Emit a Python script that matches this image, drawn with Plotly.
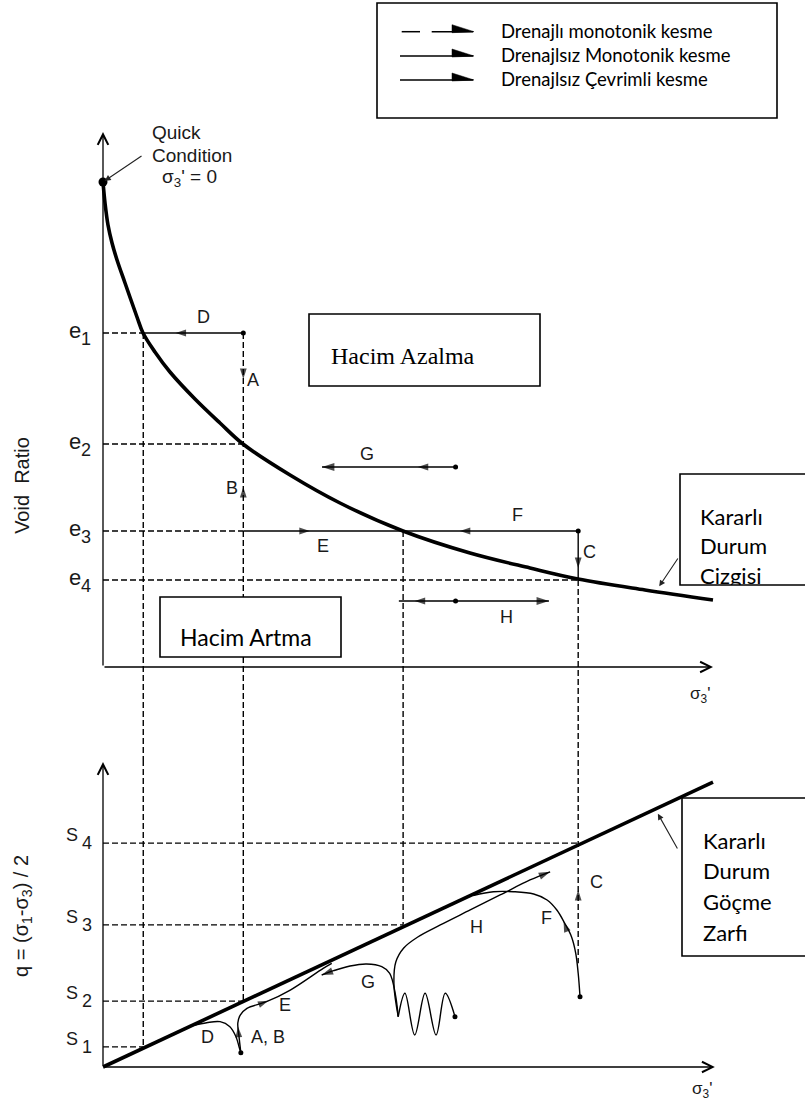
import plotly.graph_objects as go

# ------------------------------------------------------------------
# Data (schematic units: sigma3' on x, void ratio e (top) and q (bottom) on y)
# ------------------------------------------------------------------
ssl_sigma = [0.0, 0.033, 0.082, 0.148, 0.230, 0.361, 0.557, 0.656, 0.852, 1.098, 1.508,
             1.918, 2.295, 3.066, 3.885, 4.918, 6.016, 7.0, 7.787, 8.885, 10.0]
ssl_e = [1.2125, 1.16, 1.105, 1.06, 1.0175, 0.96, 0.875, 0.835, 0.7875, 0.7375, 0.67,
         0.61, 0.5575, 0.48, 0.41, 0.34, 0.285, 0.2475, 0.22, 0.1925, 0.1675]

level_sigma = [0.66, 2.30, 4.92, 7.79]
level_e = [0.835, 0.5575, 0.34, 0.2175]
level_s = [0.33, 1.08, 2.33, 3.67]
level_names = ["1", "2", "3", "4"]

env_sigma = [0.0, 10.0]
env_q = [0.0, 4.67]

# top panel (e - sigma3') stress paths
d_top_sigma = [2.30, 0.66]
e_top_sigma = [2.30, 4.92]
f_top_sigma = [7.79, 4.92]
c_top_e = [0.34, 0.2175]
g_top_sigma = [5.78, 3.59]
g_top_e = 0.50
h_top_sigma = [5.78, 4.85, 7.31]
h_top_e = 0.165

# bottom panel (q - sigma3') stress paths
d_bot_sigma = [2.26, 2.23, 2.18, 2.08, 1.92, 1.70, 1.48]
d_bot_q = [0.234, 0.333, 0.497, 0.661, 0.743, 0.726, 0.68]
ab_bot_sigma = [2.26, 2.23, 2.21, 2.25, 2.36, 2.68, 3.07, 3.61, 3.75]
ab_bot_q = [0.234, 0.497, 0.721, 0.852, 0.962, 1.071, 1.262, 1.618, 1.70]
cyc_sigma = [5.77, 5.61, 5.46, 5.28, 5.11, 4.95, 4.84]
cyc_q = [0.825, 1.208, 0.525, 1.208, 0.525, 1.208, 0.825]
g_bot_sigma = [4.84, 4.79, 4.70, 4.57, 4.32, 4.05, 3.78, 3.585]
g_bot_q = [0.825, 1.208, 1.536, 1.645, 1.689, 1.656, 1.579, 1.508]
h_bot_sigma = [4.84, 4.77, 4.80, 4.93, 5.16, 5.53, 6.02, 6.51, 7.00, 7.33]
h_bot_q = [0.825, 1.344, 1.721, 1.951, 2.131, 2.328, 2.574, 2.820, 3.066, 3.20]
f_bot_sigma = [7.82, 7.79, 7.75, 7.68, 7.57, 7.44, 7.28, 7.06, 6.73, 6.40, 6.07]
f_bot_q = [1.153, 1.536, 1.864, 2.136, 2.355, 2.574, 2.738, 2.836, 2.874, 2.874, 2.812]
c_bot_q_end = 1.70

legend_texts = ["Drenajlı monotonik kesme", "Drenajlsız Monotonik kesme", "Drenajlsız Çevrimli kesme"]

# ------------------------------------------------------------------
W, H = 805, 1103
X_RANGE = [-1.6885, 11.5082]
TOP_RANGE = [-0.2325, 1.6675]
BOT_RANGE = [-0.5902, 5.0328]
SPLIT = 1 - 760 / H

ARIAL = "Liberation Sans, Arial, sans-serif"
CAL = "Lato, Carlito, Calibri, sans-serif"
TIMES = "Liberation Serif, Times New Roman, serif"
TXT = "#1a1a1a"
DASH = "6px,3px"

fig = go.Figure()
AX = {"top": ("x", "y"), "bot": ("x2", "y2")}


def line(xs, ys, panel, dash=None, width=1.4, shape="linear"):
    xa, ya = AX[panel]
    fig.add_trace(go.Scatter(x=xs, y=ys, mode="lines", xaxis=xa, yaxis=ya,
                             line=dict(color="black", width=width, dash=dash, shape=shape,
                                       smoothing=1.0),
                             hoverinfo="skip"))


def arrow(xp, yp, xt, yt, panel, size=11):
    xa, ya = AX[panel]
    fig.add_trace(go.Scatter(x=[xp, xt], y=[yp, yt], mode="markers", xaxis=xa, yaxis=ya,
                             marker=dict(symbol="arrow", size=[0, size], angleref="previous",
                                         color="black", line=dict(width=0)),
                             hoverinfo="skip"))


def dots(xs, ys, panel, size=5):
    xa, ya = AX[panel]
    fig.add_trace(go.Scatter(x=xs, y=ys, mode="markers", xaxis=xa, yaxis=ya,
                             marker=dict(color="black", size=size), hoverinfo="skip"))


def label(text, x, y, panel, size=18, family=ARIAL, xshift=0, yshift=0, **kw):
    xa, ya = AX[panel]
    fig.add_annotation(text=text, x=x, y=y, xref=xa, yref=ya, showarrow=False,
                       xshift=xshift, yshift=yshift,
                       font=dict(family=family, size=size, color=TXT), **kw)


def axis_arrow(x0, y0, x1, y1, panel):
    xa, ya = AX[panel]
    fig.add_annotation(x=x1, y=y1, ax=x0, ay=y0, xref=xa, yref=ya, axref=xa, ayref=ya,
                       text="", showarrow=True, arrowhead=5, arrowsize=1.6,
                       arrowwidth=1.3, arrowcolor="black", standoff=0)


def leader(x0, y0, x1, y1, panel):
    xa, ya = AX[panel]
    fig.add_annotation(x=x1, y=y1, ax=x0, ay=y0, xref=xa, yref=ya, axref=xa, ayref=ya,
                       text="", showarrow=True, arrowhead=2, arrowsize=1.1,
                       arrowwidth=1.1, arrowcolor="#222", standoff=2)


def P(x, y):
    return x / W, 1 - y / H


def box(x0, y0, x1, y1, layer="above"):
    a, b = P(x0, y1)
    c, d = P(x1, y0)
    fig.add_shape(type="rect", xref="paper", yref="paper", x0=a, y0=b, x1=c, y1=d,
                  line=dict(color="black", width=1.6), fillcolor="white", layer=layer)


def ptext(text, x, y, size, family, xanchor="left"):
    a, b = P(x, y)
    fig.add_annotation(text=text, x=a, y=b, xref="paper", yref="paper", showarrow=False,
                       xanchor=xanchor, yanchor="middle",
                       font=dict(family=family, size=size, color="black"))


# ---------------- TOP PANEL ----------------
e_guide_end = [level_sigma[0], level_sigma[1], level_sigma[1], level_sigma[3]]
for ev, se in zip(level_e, e_guide_end):
    line([0, se], [ev, ev], "top", dash=DASH)
v_start = [level_e[0], level_e[0], level_e[2], level_e[3]]
for sv, es in zip(level_sigma, v_start):
    line([sv, sv], [es, TOP_RANGE[0]], "top", dash=DASH)

line(ssl_sigma, ssl_e, "top", width=3.6, shape="spline")
dots([ssl_sigma[0]], [ssl_e[0]], "top", size=9)

line(d_top_sigma, [level_e[0]] * 2, "top")
line(e_top_sigma, [level_e[2]] * 2, "top")
line(f_top_sigma, [level_e[2]] * 2, "top")
line([level_sigma[3]] * 2, c_top_e, "top")
line(g_top_sigma, [g_top_e] * 2, "top")
line(h_top_sigma, [h_top_e] * 3, "top")

arrow(1.50, level_e[0], 1.19, level_e[0], "top")
arrow(level_sigma[1], 0.77, level_sigma[1], 0.72, "top")
arrow(level_sigma[1], 0.41, level_sigma[1], 0.45, "top")
arrow(3.15, level_e[2], 3.39, level_e[2], "top")
arrow(6.10, level_e[2], 5.85, level_e[2], "top")
arrow(level_sigma[3], 0.29, level_sigma[3], 0.2475, "top")
arrow(5.45, g_top_e, 5.16, g_top_e, "top")
arrow(5.40, h_top_e, 5.11, h_top_e, "top")
arrow(g_top_sigma[0], g_top_e, g_top_sigma[-1], g_top_e, "top", size=13)
arrow(h_top_sigma[1], h_top_e, h_top_sigma[-1], h_top_e, "top", size=13)

dots([level_sigma[1], level_sigma[3], g_top_sigma[0], h_top_sigma[0]],
     [level_e[0], level_e[2], g_top_e, h_top_e], "top", size=5)

axis_arrow(0, 0, 0, 1.3375, "top")
axis_arrow(0, 0, 10.0, 0, "top")

for nm, ev in zip(level_names, level_e):
    label("e", -0.46, ev, "top", size=22, yshift=3)
    label(nm, -0.28, ev, "top", size=18, yshift=-6)

for t, x, y in [("D", 1.64, 0.876), ("A", 2.46, 0.7175), ("B", 2.12, 0.447),
                ("E", 3.60, 0.303), ("G", 4.33, 0.5325), ("F", 6.79, 0.38),
                ("C", 7.98, 0.288), ("H", 6.61, 0.126)]:
    label(t, x, y, "top")

label("Void  Ratio", -1.33, 0.455, "top", size=20, textangle=-90)
label("σ<sub>3</sub>'", 9.79, -0.07, "top", size=17)
label("Quick", 0.77, 1.3375, "top", size=19, xanchor="left")
label("Condition", 0.77, 1.28, "top", size=19, xanchor="left")
label("σ<sub>3</sub>' = 0", 0.93, 1.2225, "top", size=19, xanchor="left")
leader(0.656, 1.28, 0.0, ssl_e[0], "top")
leader(9.44, 0.275, 9.10, 0.1975, "top")

# ---------------- BOTTOM PANEL ----------------
for sv, qv in zip(level_sigma, level_s):
    line([0, sv], [qv, qv], "bot", dash=DASH)
q_end = [level_s[0], level_s[1], level_s[2], c_bot_q_end]
for sv, qe in zip(level_sigma, q_end):
    line([sv, sv], [BOT_RANGE[1], qe], "bot", dash=DASH)

line(env_sigma, env_q, "bot", width=3.6)
line(d_bot_sigma, d_bot_q, "bot", shape="spline")
line(ab_bot_sigma, ab_bot_q, "bot", shape="spline")
line(cyc_sigma, cyc_q, "bot", shape="spline")
line(g_bot_sigma, g_bot_q, "bot", shape="spline")
line(h_bot_sigma, h_bot_q, "bot", shape="spline")
line(f_bot_sigma, f_bot_q, "bot", shape="spline")

arrow(2.225, 0.50, 2.215, 0.66, "bot")
arrow(2.50, 1.00, 2.71, 1.087, "bot")
arrow(7.62, 2.20, 7.55, 2.38, "bot")
arrow(level_sigma[3], 2.60, level_sigma[3], 2.90, "bot")
arrow(g_bot_sigma[-2], g_bot_q[-2], g_bot_sigma[-1], g_bot_q[-1], "bot", size=12)
arrow(h_bot_sigma[-2], h_bot_q[-2], h_bot_sigma[-1], h_bot_q[-1], "bot", size=12)

dots([d_bot_sigma[0], cyc_sigma[0], f_bot_sigma[0]],
     [d_bot_q[0], cyc_q[0], f_bot_q[0]], "bot", size=5)

axis_arrow(0, 0, 0, 5.0, "bot")
axis_arrow(0, 0, 10.03, 0, "bot")

for nm, sv in zip(level_names, level_s):
    label("S", -0.51, sv, "bot", size=18, yshift=8)
    label(nm, -0.26, sv, "bot", size=18, yshift=0)

for t, x, y in [("D", 1.71, 0.487), ("A, B", 2.71, 0.487), ("E", 2.98, 1.016),
                ("G", 4.35, 1.398), ("H", 6.13, 2.30), ("F", 7.27, 2.438),
                ("C", 8.09, 3.038)]:
    label(t, x, y, "bot")

label("q = (σ<sub>1</sub>-σ<sub>3</sub>) / 2", -1.33, 2.475, "bot", size=20, textangle=-90)
label("σ<sub>3</sub>'", 9.82, -0.38, "bot", size=17)
leader(9.43, 3.557, 9.08, 4.18, "bot")

# ---------------- boxes & legend ----------------
box(377, 3, 777, 118)
leg_y = [31.7, 56.0, 80.0]
for i, (txt, yy) in enumerate(zip(legend_texts, leg_y)):
    segs = [(401.7, 420.0), (431.7, 473.0)] if i == 0 else [(400.0, 473.0)]
    for xa_, xb_ in segs:
        a, b = P(xa_, yy)
        c, d = P(xb_, yy)
        fig.add_shape(type="line", xref="paper", yref="paper", x0=a, y0=b, x1=c, y1=d,
                      line=dict(color="black", width=1.5), layer="above")
    p1, p2, p3 = P(452, yy - 7), P(474, yy), P(452, yy + 1)
    fig.add_shape(type="path", xref="paper", yref="paper",
                  path=f"M {p1[0]},{p1[1]} L {p2[0]},{p2[1]} L {p3[0]},{p3[1]} Z",
                  fillcolor="black", line=dict(color="black", width=0.5), layer="above")
    ptext(txt, 499, yy - 1, 18.5, CAL)

box(309, 314, 540, 386)
ptext("Hacim Azalma", 403, 356, 24, TIMES, xanchor="center")
box(160, 597, 341, 657)
ptext("Hacim Artma", 246, 637, 23, CAL, xanchor="center")

box(680, 474, 840, 585, layer="below")
fig.add_trace(go.Scatter(x=[0.16] * 3, y=[0.586, 0.333, 0.06], mode="text",
                         text=["Kararlı", "Durum", "Cizgisi"], textposition="middle right",
                         textfont=dict(family=CAL, size=22, color="black"),
                         xaxis="x3", yaxis="y3", cliponaxis=True, hoverinfo="skip"))

box(682, 798, 840, 956)
for t, yy in zip(["Kararlı", "Durum", "Göçme", "Zarfı"], [840, 870, 901, 932]):
    ptext(t, 701, yy, 22, CAL)

fig.update_layout(
    width=W, height=H, margin=dict(l=0, r=0, t=0, b=0), showlegend=False,
    paper_bgcolor="white", plot_bgcolor="rgba(0,0,0,0)",
    xaxis=dict(domain=[0, 1], range=X_RANGE, visible=False, anchor="y"),
    yaxis=dict(domain=[SPLIT, 1], range=TOP_RANGE, visible=False, anchor="x"),
    xaxis2=dict(domain=[0, 1], range=X_RANGE, visible=False, anchor="y2"),
    yaxis2=dict(domain=[0, SPLIT], range=BOT_RANGE, visible=False, anchor="x2"),
    xaxis3=dict(domain=[680 / W, 1], range=[0, 1], visible=False, anchor="y3"),
    yaxis3=dict(domain=[1 - 585 / H, 1 - 474 / H], range=[0, 1], visible=False, anchor="x3"),
)

fig.write_html("out.html", config={"displayModeBar": False},
               post_script="document.body.style.margin='0px';document.body.style.overflow='hidden';")
